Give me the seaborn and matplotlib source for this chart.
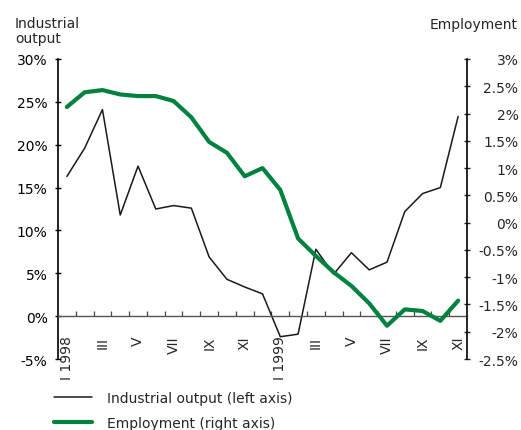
import numpy as np
import pandas as pd
import matplotlib.pyplot as plt
import seaborn as sns
from matplotlib.ticker import FixedLocator, FuncFormatter

# Monthly data, Jan 1998 - Nov 1999 (y/y growth, %)
month_labels = ["I 1998", "", "III", "", "V", "", "VII", "", "IX", "", "XI", "",
                "I 1999", "", "III", "", "V", "", "VII", "", "IX", "", "XI"]
industrial_output = [16.3, 19.6, 24.1, 11.8, 17.5, 12.5, 12.9, 12.6, 6.9, 4.3, 3.4, 2.6,
                     -2.4, -2.1, 7.8, 4.9, 7.4, 5.4, 6.3, 12.2, 14.3, 15.0, 23.3]
employment = [2.12, 2.39, 2.43, 2.35, 2.32, 2.32, 2.23, 1.93, 1.48, 1.28, 0.85, 1.0,
              0.6, -0.29, -0.61, -0.91, -1.16, -1.48, -1.89, -1.59, -1.62, -1.80, -1.43]

df = pd.DataFrame({"month": np.arange(len(month_labels)),
                   "industrial": industrial_output,
                   "employment": employment})

sns.set_style("ticks")
plt.rcParams["font.family"] = ["DejaVu Sans"]
fs = 10

green = "#00823f"
fig = plt.figure(figsize=(5.21, 4.31), dpi=100)
ax = fig.add_axes([0.1113, 0.1647, 0.7851, 0.6961])
ax2 = ax.twinx()

sns.lineplot(data=df, x="month", y="industrial", ax=ax, color="#1a1a1a", lw=1.1,
             label="Industrial output (left axis)", legend=False)
sns.lineplot(data=df, x="month", y="employment", ax=ax2, color=green, lw=3.0,
             label="Employment (right axis)", legend=False)

ax.set_xlim(-0.5, len(month_labels) - 0.5)
ax.set_ylim(-5, 30)
ax2.set_ylim(-2.5, 3)

pct = FuncFormatter(lambda v, p: f"{v:g}%")
ax.yaxis.set_major_locator(FixedLocator(np.arange(-5, 31, 5)))
ax.yaxis.set_major_formatter(pct)
ax2.yaxis.set_major_locator(FixedLocator(np.arange(-2.5, 3.01, 0.5)))
ax2.yaxis.set_major_formatter(pct)

# x axis sits on the zero line of the left axis
ax.spines["bottom"].set_position(("data", 0))
ax.spines["bottom"].set_color("#555555")
ax.spines["bottom"].set_linewidth(1.0)
for a in (ax, ax2):
    a.spines["top"].set_visible(False)
ax2.spines["bottom"].set_visible(False)
ax2.spines["left"].set_visible(False)
ax.spines["right"].set_visible(False)
for s in (ax.spines["left"], ax2.spines["right"]):
    s.set_color("black")
    s.set_linewidth(1.2)

ax.set_xticks(np.arange(len(month_labels)))
ax.set_xticklabels(month_labels, rotation=90)
ax.set_xticks(np.arange(0.5, len(month_labels) - 1), minor=True)
ax.tick_params(axis="x", which="major", length=0, pad=14, labelsize=fs)
ax.tick_params(axis="x", which="minor", direction="in", length=3.5, width=0.9, color="#444444")

ax.tick_params(axis="y", direction="inout", length=4, width=1, pad=5.5, labelsize=fs, colors="black")
ax2.tick_params(axis="y", direction="inout", length=4, width=1, pad=35, labelsize=fs)
for t in ax2.get_yticklabels():
    t.set_ha("right")

ax.set_xlabel("")
ax.set_ylabel("")
ax2.set_ylabel("")
ax.grid(False)
ax2.grid(False)

fig.text(15 / 521, 1 - 28.5 / 431, "Industrial", fontsize=fs, ha="left", va="baseline")
fig.text(15 / 521, 1 - 43.5 / 431, "output", fontsize=fs, ha="left", va="baseline")
fig.text(518 / 521, 1 - 29 / 431, "Employment", fontsize=fs, ha="right", va="baseline")

h1, l1 = ax.get_legend_handles_labels()
h2, l2 = ax2.get_legend_handles_labels()
fig.legend(h1 + h2, l1 + l2, loc="upper left", bbox_to_anchor=(50 / 521, 1 - 388 / 431),
           frameon=False, fontsize=fs, handlelength=2.7, handletextpad=1.1,
           labelspacing=0.75, borderaxespad=0, borderpad=0.3)

fig.savefig("out.png", dpi=100)
